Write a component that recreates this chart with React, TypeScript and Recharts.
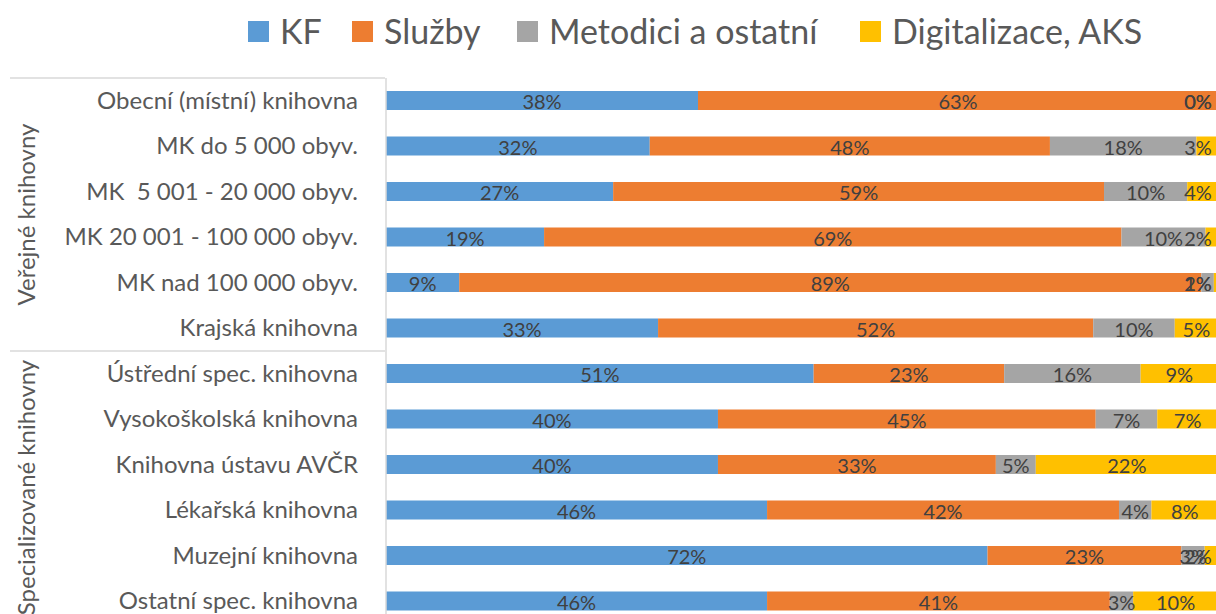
import React from "react";
import { BarChart, Bar, XAxis, YAxis, Legend, LabelList } from "recharts";

const categories = [
  "Obecní (místní) knihovna",
  "MK do 5 000 obyv.",
  "MK  5 001 - 20 000 obyv.",
  "MK 20 001 - 100 000 obyv.",
  "MK nad 100 000 obyv.",
  "Krajská knihovna",
  "Ústřední spec. knihovna",
  "Vysokoškolská knihovna",
  "Knihovna ústavu AVČR",
  "Lékařská knihovna",
  "Muzejní knihovna",
  "Ostatní spec. knihovna",
];

const kf = [37.5, 31.7, 27.3, 19.0, 8.8, 32.7, 51.4, 39.9, 39.9, 45.8, 72.3, 45.8];
const sluzby = [62.5, 48.1, 59.0, 69.4, 89.2, 52.3, 22.9, 45.4, 33.4, 42.3, 23.3, 41.2];
const metodici = [0, 17.6, 10.0, 10.1, 1.5, 9.8, 16.4, 7.4, 4.8, 3.9, 2.8, 2.8];
const digitalizace = [0, 2.6, 3.7, 1.5, 0.5, 5.2, 9.3, 7.3, 21.9, 8.0, 1.6, 10.2];

const groups = [
  { label: "Veřejné knihovny", size: 6 },
  { label: "Specializované knihovny", size: 6 },
];

const seriesNames = ["KF", "Služby", "Metodici a ostatní", "Digitalizace, AKS"];
const seriesColors = ["#5B9BD5", "#ED7D31", "#A5A5A5", "#FFC000"];
const seriesValues = [kf, sluzby, metodici, digitalizace];
const seriesKeys = ["kf", "sluzby", "metodici", "digitalizace"];

const data = categories.map((c, i) => ({
  name: c,
  kf: kf[i],
  sluzby: sluzby[i],
  metodici: metodici[i],
  digitalizace: digitalizace[i],
}));

const FONT = "Lato, 'Open Sans', sans-serif";
const CHART_W = 1220;
const CHART_H = 624;
const PLOT_LEFT = 386;
const MARGIN_RIGHT = 2;
const LABEL_RIGHT_LIMIT = 1212;
const LEGEND_ITEM_LEFT = [248, 352, 517, 860];

function labelText(v: number, cx: number, cy: number, key: string) {
  const txt = Math.round(Number(v)) + "%";
  const digits = txt.length - 1;
  const w = digits * 11.6 + 16.5;
  let x = cx;
  if (x + w / 2 > LABEL_RIGHT_LIMIT) x = LABEL_RIGHT_LIMIT - w / 2;
  return (
    <text
      key={key}
      x={x}
      y={cy + 8.5}
      textAnchor="middle"
      fontFamily={FONT}
      fontSize={20}
      fill="#404040"
    >
      {txt}
    </text>
  );
}

// rows that actually get a rectangle (zero-length segments are skipped by the bar)
function rowOf(si: number, index: number, value: number) {
  const rows: number[] = [];
  seriesValues[si].forEach((v, r) => {
    if (v !== 0) rows.push(r);
  });
  const r = rows[index];
  if (r !== undefined && seriesValues[si][r] === value) return r;
  if (seriesValues[si][index] === value) return index;
  return -1;
}

function DataLabel(props: any) {
  const { x, y, width, height, value, index, si } = props;
  if (value === undefined || value === null) return null;
  const cy = Number(y) + Number(height) / 2;
  const end = Number(x) + Number(width);
  const out: any[] = [labelText(Number(value), Number(x) + Number(width) / 2, cy, "own")];
  if (typeof index === "number") {
    const row = rowOf(si, index, Number(value));
    if (row >= 0) {
      for (let j = si + 1; j < seriesValues.length; j++) {
        const v = seriesValues[j][row];
        if (v !== 0) break;
        out.push(labelText(v, end, cy, "z" + j));
      }
    }
  }
  return <g>{out}</g>;
}

function CategoryTick(props: any) {
  const { x, y, payload, index } = props;
  const n = categories.length;
  const half = (CHART_H - 78) / n / 2;
  const elems: any[] = [];
  let start = 0;
  groups.forEach((g, gi) => {
    if (index === start) {
      const topY = y - half;
      elems.push(
        <line key={"gl" + gi} x1={10} x2={PLOT_LEFT - 1} y1={topY} y2={topY} stroke="#D9D9D9" strokeWidth={1.5} />
      );
      const midY = topY + g.size * half;
      elems.push(
        <text
          key={"gt" + gi}
          x={0}
          y={0}
          transform={`translate(35, ${midY}) rotate(-90)`}
          textAnchor="middle"
          fontFamily={FONT}
          fontSize={24}
          fill="#595959"
        >
          {g.label}
        </text>
      );
    }
    start += g.size;
  });
  return (
    <g>
      {elems}
      <text
        x={x}
        y={y + 8}
        textAnchor="end"
        fontFamily={FONT}
        fontSize={24}
        fill="#595959"
        style={{ whiteSpace: "pre" }}
      >
        {payload.value}
      </text>
    </g>
  );
}

function LegendContent() {
  return (
    <div
      style={{
        position: "relative",
        height: 62,
        fontFamily: FONT,
        fontSize: 34,
        color: "#595959",
      }}
    >
      {seriesNames.map((n, i) => (
        <div
          key={n}
          style={{
            position: "absolute",
            left: LEGEND_ITEM_LEFT[i],
            top: 0,
            height: 62,
            display: "flex",
            alignItems: "center",
          }}
        >
          <span
            style={{
              display: "inline-block",
              width: 21,
              height: 21,
              background: seriesColors[i],
              marginRight: 11,
            }}
          />
          <span style={{ lineHeight: "62px", whiteSpace: "nowrap" }}>{n}</span>
        </div>
      ))}
    </div>
  );
}

export default function App() {
  return (
    <div
      style={{
        position: "fixed",
        left: 0,
        top: 0,
        width: 1216,
        height: 614,
        overflow: "hidden",
        background: "#fff",
      }}
    >
      <BarChart
        width={CHART_W}
        height={CHART_H}
        data={data}
        layout="vertical"
        margin={{ top: 16, right: MARGIN_RIGHT, bottom: 0, left: 0 }}
        barSize={19}
      >
        <Legend
          verticalAlign="top"
          align="left"
          content={<LegendContent />}
          wrapperStyle={{ position: "absolute", top: 0, left: 0, width: 1216, height: 62 }}
        />
        <XAxis type="number" domain={[0, 100]} allowDataOverflow hide />
        <YAxis
          type="category"
          dataKey="name"
          width={PLOT_LEFT}
          axisLine={{ stroke: "#D9D9D9", strokeWidth: 1.5 }}
          tickLine={false}
          tickSize={0}
          tickMargin={28}
          interval={0}
          tick={<CategoryTick />}
        />
        {seriesKeys.map((k, i) => (
          <Bar
            key={k}
            dataKey={k}
            name={seriesNames[i]}
            stackId="s"
            fill={seriesColors[i]}
            isAnimationActive={false}
          >
            <LabelList dataKey={k} content={<DataLabel si={i} />} />
          </Bar>
        ))}
      </BarChart>
    </div>
  );
}
